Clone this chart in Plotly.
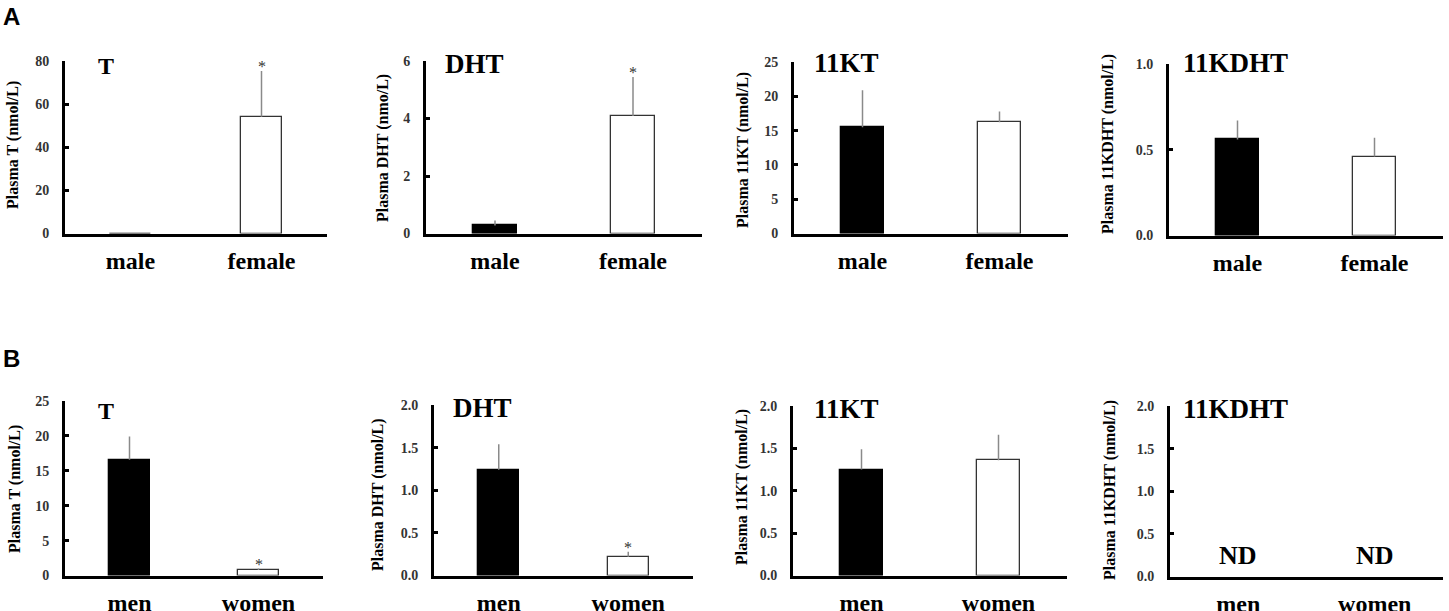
import plotly.graph_objects as go

# groups
groups_a = ["male", "female"]
groups_b = ["men", "women"]

# panel A (mean, sd)
a_t_mean = [0, 54.2]
a_t_sd = [0, 21.2]
a_dht_mean = [0.28, 4.09]
a_dht_sd = [0.17, 1.35]
a_11kt_mean = [15.5, 16.2]
a_11kt_sd = [5.4, 1.6]
a_11kdht_mean = [0.56, 0.46]
a_11kdht_sd = [0.11, 0.11]

# panel B (mean, sd)
b_t_mean = [16.6, 0.8]
b_t_sd = [3.3, 0.2]
b_dht_mean = [1.24, 0.22]
b_dht_sd = [0.30, 0.06]
b_11kt_mean = [1.25, 1.36]
b_11kt_sd = [0.24, 0.30]
b_11kdht_mean = [None, None]
b_11kdht_sd = [None, None]

# significance marks
a_t_sig = [False, True]
a_dht_sig = [False, True]
b_t_sig = [False, True]
b_dht_sig = [False, True]
no_sig = [False, False]

W, H = 1449, 611
SERIF = "Liberation Serif"

panels = [
    # name, size, groups, mean, sd, sig, ytitle, ymax, dtick, fmt, x0, x1, ytop, ybot, title x, title y, ytitle x, ytitle y
    ("T", 24, groups_a, a_t_mean, a_t_sd, a_t_sig, "Plasma T (nmol/L)", 80, 20, "d", 65, 327, 61, 233.5, 96, 66, 13, 145),
    ("DHT", 27, groups_a, a_dht_mean, a_dht_sd, a_dht_sig, "Plasma DHT (nmo/L)", 6, 2, "d", 426, 702, 61, 233.5, 443, 64, 383, 148),
    ("11KT", 27, groups_a, a_11kt_mean, a_11kt_sd, no_sig, "Plasma 11KT (nmol/L)", 25, 5, "d", 794, 1068, 62, 233.5, 812, 63, 743, 150),
    ("11KDHT", 27, groups_a, a_11kdht_mean, a_11kdht_sd, no_sig, "Plasma 11KDHT (nmol/L)", 1.0, 0.5, ".1f", 1169, 1443, 64, 235.5, 1181, 63, 1108, 144),
    ("T", 24, groups_b, b_t_mean, b_t_sd, b_t_sig, "Plasma T (nmol/L)", 25, 5, "d", 65, 323, 401, 575.5, 96, 411, 15, 489),
    ("DHT", 27, groups_b, b_dht_mean, b_dht_sd, b_dht_sig, "Plasma DHT (nmol/L)", 2.0, 0.5, ".1f", 434, 693, 405, 575.5, 451, 408, 378, 495),
    ("11KT", 27, groups_b, b_11kt_mean, b_11kt_sd, no_sig, "Plasma 11KT (nmol/L)", 2.0, 0.5, ".1f", 793, 1067, 406, 575.5, 812, 409, 742, 487),
    ("11KDHT", 27, groups_b, b_11kdht_mean, b_11kdht_sd, no_sig, "Plasma 11KDHT (nmol/L)", 2.0, 0.5, ".1f", 1170, 1443, 406, 576.5, 1181, 409, 1110, 490),
]

fig = go.Figure()
annotations = []
layout = {}

for i, (name, tsize, grp, mean, sd, sig, ytitle, ymax, dtick, fmt, x0, x1, ytop, ybot, tx, ty, ytx, yty) in enumerate(panels):
    n = i + 1
    xa = "x" if n == 1 else f"x{n}"
    ya = "y" if n == 1 else f"y{n}"
    fig.add_trace(go.Bar(
        x=grp, y=mean, xaxis=xa, yaxis=ya, width=0.32,
        marker=dict(color=["black", "white"], line=dict(color=["black", "#333333"], width=1.3)),
        error_y=dict(type="data", array=sd, arrayminus=[0, 0], symmetric=False,
                     width=0, color="#8a8a8a", thickness=1.5),
        showlegend=False,
    ))
    layout["xaxis" if n == 1 else f"xaxis{n}"] = dict(
        domain=[x0 / W, x1 / W], anchor=ya, type="category", automargin=False,
        categoryorder="array", categoryarray=grp, range=[-0.5, 1.5],
        showline=True, linewidth=3, linecolor="black", ticks="",
        showgrid=False, zeroline=False, fixedrange=True,
        tickfont=dict(family=SERIF, size=24, color="black", weight="bold"),
        ticklabelstandoff=4,
    )
    layout["yaxis" if n == 1 else f"yaxis{n}"] = dict(
        domain=[1 - ybot / H, 1 - ytop / H], anchor=xa, automargin=False,
        range=[0, ymax], dtick=dtick, tick0=0, tickformat=fmt,
        showline=True, linewidth=3, linecolor="black",
        ticks="inside", ticklen=4, tickwidth=3, tickcolor="black",
        showgrid=False, zeroline=False, fixedrange=True,
        tickfont=dict(family=SERIF, size=14, color="#333333", weight="bold"),
        ticklabelstandoff=10,
    )
    # panel title
    annotations.append(dict(text=name, xref="paper", yref="paper",
                            x=tx / W, y=1 - ty / H, xanchor="left", yanchor="middle",
                            showarrow=False,
                            font=dict(family=SERIF, size=tsize, color="black", weight="bold")))
    # y-axis title
    annotations.append(dict(text=ytitle, xref="paper", yref="paper", textangle=-90,
                            x=ytx / W, y=1 - yty / H, xanchor="center", yanchor="middle",
                            showarrow=False,
                            font=dict(family=SERIF, size=16, color="black", weight="bold")))
    for g, m, s, flag in zip(grp, mean, sd, sig):
        if flag:
            annotations.append(dict(text="*", xref=xa, yref=ya, x=g, y=m + s,
                                    yanchor="bottom", showarrow=False, yshift=-6,
                                    font=dict(family=SERIF, size=16, color="#333333")))
        if m is None:
            annotations.append(dict(text="ND", xref=xa, yref=ya, x=g, y=0,
                                    yanchor="middle", showarrow=False, yshift=21,
                                    font=dict(family=SERIF, size=26, color="black", weight="bold")))

# panel letters
for letter, ypx in [("A", 16.5), ("B", 358)]:
    annotations.append(dict(text=letter, xref="paper", yref="paper", x=1 / W, y=1 - ypx / H,
                            xanchor="left", yanchor="middle", showarrow=False,
                            font=dict(family="Liberation Sans", size=24, color="black", weight="bold")))

fig.update_layout(
    width=W, height=H,
    margin=dict(l=0, r=0, t=0, b=0),
    paper_bgcolor="white", plot_bgcolor="white",
    bargap=0, annotations=annotations,
    **layout,
)

fig.write_html("out.html", config={"displayModeBar": False},
               post_script="document.body.style.margin='0';")
